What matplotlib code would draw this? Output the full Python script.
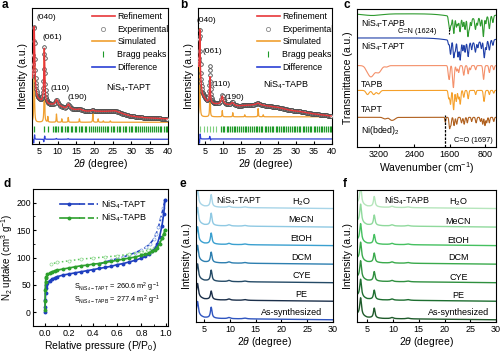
import numpy as np
import matplotlib.pyplot as plt
from matplotlib.lines import Line2D
from matplotlib.legend_handler import HandlerTuple

plt.rcParams['font.family'] = ['Liberation Sans', 'DejaVu Sans']
plt.rcParams['mathtext.fontset'] = 'custom'
plt.rcParams['mathtext.rm'] = 'Liberation Sans'
plt.rcParams['mathtext.it'] = 'Liberation Sans:italic'
plt.rcParams['font.size'] = 7
plt.rcParams['axes.linewidth'] = 0.8
plt.rcParams['xtick.direction'] = 'in'
plt.rcParams['ytick.direction'] = 'in'
plt.rcParams['xtick.major.size'] = 2.5
plt.rcParams['ytick.major.size'] = 2.5
plt.rcParams['xtick.minor.size'] = 1.5
plt.rcParams['ytick.minor.size'] = 1.5
plt.rcParams['xtick.labelsize'] = 6.5
plt.rcParams['ytick.labelsize'] = 6.5
plt.rcParams['xtick.major.pad'] = 2
plt.rcParams['ytick.major.pad'] = 2

# ---------------- data ----------------
# panel a (NiS4-TAPT Rietveld), intensities in axis fraction
a_bg_x = [3, 4.5, 5.5, 7.5, 10, 12, 15, 18, 20, 23, 25.5, 28, 30, 33, 36, 40]
a_bg_y = [0.45, 0.33, 0.31, 0.29, 0.285, 0.26, 0.25, 0.24, 0.24, 0.24, 0.245, 0.22, 0.205, 0.195, 0.19, 0.185]
a_exp_peaks = [(3.6, 0.47, 0.2), (6.35, 0.41, 0.18), (9.7, 0.04, 0.35), (12.9, 0.035, 0.4), (16.0, 0.01, 0.6), (19.5, 0.008, 0.5)]
a_ref_peaks = [(3.6, 0.46, 0.17), (6.35, 0.40, 0.15), (9.7, 0.04, 0.35), (12.9, 0.035, 0.4), (16.0, 0.01, 0.6), (19.5, 0.008, 0.5)]
a_sim_base = 0.16
a_sim_peaks = [(3.6, 0.69, 0.07), (6.35, 0.53, 0.07), (7.3, 0.04, 0.06), (9.65, 0.06, 0.07), (11.1, 0.025, 0.06),
               (12.85, 0.035, 0.07), (15.9, 0.025, 0.07), (19.55, 0.07, 0.07), (21.0, 0.025, 0.07), (22.4, 0.01, 0.07), (24.3, 0.01, 0.07)]
a_diff_base = 0.035
a_diff_peaks = [(3.45, -0.03, 0.08), (3.7, 0.035, 0.07), (6.2, -0.02, 0.07), (6.45, 0.025, 0.07), (9.6, 0.006, 0.1), (12.8, 0.005, 0.1)]
a_bragg = [3.6, 6.3, 7.3, 8.7, 9.2, 9.6, 10.1, 10.8, 11.2, 11.9, 12.4, 12.8, 13.5, 13.9, 14.6, 15.0, 15.8, 16.3, 16.7, 17.4,
           17.8, 18.5, 19.1, 19.5, 20.2, 20.6, 21.3, 21.8, 22.2, 22.9, 23.4, 23.8, 24.5, 25.0, 25.4, 26.1, 26.6, 27.0,
           27.7, 28.2, 28.6, 29.3, 29.8, 30.3, 30.9, 31.4, 31.8, 32.5, 33.0, 33.4, 34.1, 34.6, 35.1, 35.7, 36.2, 36.6,
           37.3, 37.8, 38.2, 38.9, 39.4, 39.8]

# panel b (NiS4-TAPB Rietveld)
b_bg_x = [3, 4.2, 5.5, 7.5, 10.5, 12, 14, 17, 19.5, 22, 25, 28, 31, 34, 37, 40]
b_bg_y = [0.55, 0.36, 0.31, 0.295, 0.29, 0.285, 0.28, 0.285, 0.29, 0.28, 0.27, 0.25, 0.24, 0.225, 0.215, 0.205]
b_exp_peaks = [(3.5, 0.37, 0.18), (6.3, 0.27, 0.17), (9.7, 0.07, 0.3), (12.5, 0.025, 0.4), (19.6, 0.01, 0.6)]
b_ref_peaks = [(3.5, 0.37, 0.13), (6.3, 0.19, 0.12), (9.7, 0.06, 0.3), (12.5, 0.02, 0.4), (19.6, 0.01, 0.6)]
b_sim_base = 0.2
b_sim_peaks = [(3.5, 0.65, 0.07), (6.3, 0.29, 0.07), (9.7, 0.045, 0.07), (12.6, 0.03, 0.07), (15.9, 0.015, 0.07),
               (19.6, 0.06, 0.07), (21.0, 0.015, 0.07)]
b_diff_base = 0.037
b_diff_peaks = [(3.4, -0.035, 0.07), (3.6, 0.04, 0.07), (6.25, 0.02, 0.08), (6.45, -0.01, 0.07)]
b_bragg_weak = [3.5, 4.6, 5.5, 6.3, 7.2, 8.1]
b_bragg = [9.4, 9.8, 10.3, 10.9, 11.3, 11.8, 12.4, 12.9, 13.3, 13.9, 14.4, 14.8, 15.4, 15.9, 16.3, 16.9, 17.4, 17.8,
           18.4, 18.9, 19.3, 19.9, 20.4, 20.8, 21.4, 21.9, 22.3, 22.9, 23.4, 23.8, 24.4, 24.9, 25.3, 25.9, 26.4, 26.8,
           27.4, 27.9, 28.3, 28.9, 29.4, 29.8, 30.4, 30.9, 31.3, 31.9, 32.4, 32.8, 33.4, 33.9, 34.3, 34.9, 35.4, 35.8,
           36.4, 36.9, 37.3, 37.9, 38.4, 38.8, 39.4, 39.8]

# panel c FTIR: baseline and bands [(wavenumber, depth, width)]
ir_names = ['NiS$_4$-TAPB', 'NiS$_4$-TAPT', 'TAPB', 'TAPT', 'Ni(bded)$_2$']
ir_colors = ['#2e9a2e', '#1f3fa8', '#f4906a', '#f5a02a', '#b0601e']
ir_base = [0.965, 0.79, 0.59, 0.41, 0.215]
ir_bands = [
    [(3350, 0.012, 200), (1150, 0.035, 380), (1624, 0.03, 12), (1595, 0.1, 16), (1560, 0.05, 12), (1505, 0.12, 16),
     (1445, 0.07, 14), (1410, 0.05, 12), (1365, 0.1, 16), (1300, 0.06, 14), (1250, 0.08, 14), (1185, 0.13, 16),
     (1150, 0.06, 12), (1110, 0.05, 12), (1015, 0.08, 16), (970, 0.05, 12), (900, 0.06, 14), (835, 0.14, 16),
     (780, 0.05, 12), (700, 0.09, 16), (620, 0.05, 14)],
    [(1150, 0.035, 380), (1624, 0.03, 12), (1580, 0.1, 16), (1505, 0.12, 16), (1470, 0.06, 12), (1410, 0.11, 16),
     (1360, 0.13, 16), (1300, 0.06, 12), (1250, 0.07, 14), (1180, 0.1, 16), (1100, 0.05, 12), (1015, 0.07, 16),
     (960, 0.04, 12), (880, 0.05, 12), (815, 0.12, 16), (770, 0.06, 12), (700, 0.07, 16), (620, 0.04, 14)],
    [(3440, 0.04, 60), (3360, 0.06, 60), (3210, 0.05, 60), (3030, 0.01, 40), (1620, 0.08, 16), (1600, 0.05, 12),
     (1515, 0.16, 18), (1440, 0.04, 14), (1395, 0.05, 14), (1280, 0.07, 16), (1180, 0.06, 14), (1130, 0.03, 14),
     (1010, 0.03, 14), (830, 0.1, 16), (700, 0.05, 14), (600, 0.03, 14)],
    [(3460, 0.03, 35), (3320, 0.03, 35), (3210, 0.025, 35), (1620, 0.06, 14), (1580, 0.1, 14), (1510, 0.14, 16),
     (1450, 0.08, 14), (1400, 0.06, 12), (1360, 0.1, 14), (1280, 0.05, 14), (1180, 0.06, 14), (1010, 0.03, 12),
     (820, 0.08, 16), (700, 0.03, 12), (600, 0.02, 12)],
    [(3060, 0.012, 40), (2920, 0.02, 40), (2850, 0.012, 35), (1697, 0.035, 10), (1600, 0.08, 14), (1570, 0.05, 12),
     (1500, 0.06, 14), (1440, 0.05, 14), (1330, 0.04, 14), (1270, 0.05, 14), (1200, 0.04, 12), (1100, 0.03, 12),
     (1000, 0.04, 14), (900, 0.03, 12), (850, 0.05, 12), (800, 0.06, 12), (760, 0.04, 12), (700, 0.04, 12),
     (600, 0.03, 12)],
]

# panel d N2 isotherms
tapt_ads_p = [0.0002, 0.001, 0.002, 0.004, 0.007, 0.01, 0.02, 0.04, 0.06, 0.08, 0.1, 0.15, 0.2, 0.25, 0.3, 0.35, 0.4,
              0.45, 0.5, 0.55, 0.6, 0.65, 0.7, 0.75, 0.8, 0.83, 0.86, 0.89, 0.91, 0.93, 0.95, 0.97, 0.985, 0.995]
tapt_ads_v = [0, 10, 22, 35, 44, 49, 54, 58, 61, 63, 65, 68, 70, 72, 74, 76, 78, 80, 82, 84, 87, 89, 92, 95, 99, 102,
              106, 111, 116, 124, 138, 158, 180, 205]
tapt_des_p = [0.995, 0.98, 0.96, 0.94, 0.92, 0.9, 0.87, 0.84, 0.8, 0.75, 0.7, 0.65, 0.6, 0.55, 0.5, 0.45]
tapt_des_v = [205, 190, 172, 155, 142, 133, 125, 119, 114, 109, 105, 101, 98, 95, 92, 88]
tapb_ads_p = tapt_ads_p
tapb_ads_v = [5, 20, 40, 55, 62, 65, 69, 72, 74, 76, 77, 79, 81, 83, 85, 86, 88, 89, 91, 93, 95, 97, 99, 101, 104,
              106, 108, 111, 114, 118, 125, 135, 143, 150]
tapb_des_p = [0.995, 0.97, 0.94, 0.9, 0.85, 0.8, 0.7, 0.6, 0.5, 0.4, 0.3, 0.2, 0.1, 0.05]
tapb_des_v = [150, 135, 124, 117, 113, 110, 106, 103, 101, 99, 97, 94, 91, 88]

# panels e/f stability PXRD (bottom to top)
solvents = ['As-synthesized', 'PE', 'CYE', 'DCM', 'EtOH', 'MeCN', 'H$_2$O']
e_colors = ['#2f55c0', '#1b2f4a', '#244a66', '#2d7fb0', '#3aa0d0', '#8fc9e3', '#a8d5e8']
f_colors = ['#1e5a2a', '#1d6e30', '#2f8f3f', '#3aaa4c', '#45c060', '#8fd99c', '#b6e6bc']
e_h1 = [0.75, 0.72, 0.78, 0.78, 0.78, 0.82, 0.82]
e_h2 = [0.58, 0.45, 0.58, 0.55, 0.58, 0.65, 0.65]
f_h1 = [0.95, 0.95, 0.95, 0.95, 0.95, 1.0, 1.0]
f_h2 = [0.53, 0.5, 0.5, 0.5, 0.5, 0.55, 0.55]
st_bg_x = [3.0, 5, 8, 12, 20, 30]
st_bg_y = [0.3, 0.12, 0.07, 0.05, 0.03, 0.0]


def lor(x, peaks):
    y = np.zeros_like(x)
    for c, h, w in peaks:
        y += h / (1 + ((x - c) / w) ** 2)
    return y


def gau(x, bands):
    y = np.zeros_like(x)
    for c, d, w in bands:
        y += d * np.exp(-0.5 * ((x - c) / w) ** 2)
    return y


fig = plt.figure(figsize=(5.0, 3.53), dpi=100)
W, H = 500.0, 353.0


def add_ax(x0, y0, x1, y1):
    return fig.add_axes([x0 / W, 1 - y1 / H, (x1 - x0) / W, (y1 - y0) / H])


tt = r'$\mathit{2}\theta$ (degree)'


def rietveld(ax, bg_x, bg_y, exp_p, ref_p, sim_b, sim_p, diff_b, diff_p, bragg, bragg_weak, labels, name, lpos, npos):
    x = np.arange(3, 40.001, 0.01)
    bg = np.interp(x, bg_x, bg_y)
    xe = np.concatenate([np.arange(3.0, 8.0, 0.08), np.arange(8.0, 40.01, 0.18)])
    ye = np.interp(xe, bg_x, bg_y) + lor(xe, exp_p)
    ax.plot(x, sim_b + lor(x, sim_p), color='#f0a030', lw=0.9, zorder=2)
    ax.plot(xe, ye, 'o', mfc='white', mec='#444444', ms=2.6, mew=0.6, zorder=3)
    ax.plot(x, bg + lor(x, ref_p), color='#e8373a', lw=1.0, zorder=4)
    ax.plot(x, diff_b + lor(x, diff_p), color='#2a3fd4', lw=0.9, zorder=2)
    if bragg_weak:
        ax.plot(bragg_weak, [0.11] * len(bragg_weak), '|', color='#7fcf7f', ms=4.5, mew=0.8)
    ax.plot(bragg, [0.11] * len(bragg), '|', color='#1e9a28', ms=4.5, mew=0.9)
    ax.set_xlim(3, 40)
    ax.set_ylim(0, 1)
    ax.set_yticks([])
    ax.set_xticks([5, 10, 15, 20, 25, 30, 35, 40])
    ax.set_xlabel(tt, fontsize=7.5, labelpad=1)
    ax.set_ylabel('Intensity (a.u.)', fontsize=7.5, labelpad=3)
    for (t, px, py) in labels:
        ax.text(px, py, t, fontsize=6, ha='center', va='center', transform=ax.transAxes)
    ax.text(npos[0], npos[1], name, fontsize=6.5, ha='center', va='center', transform=ax.transAxes)
    hs = [Line2D([], [], color='#e8373a', lw=1.2),
          Line2D([], [], ls='none', marker='o', mfc='white', mec='#888888', ms=3, mew=0.6),
          Line2D([], [], color='#f0a030', lw=1.2),
          Line2D([], [], ls='none', marker='|', color='#1e9a28', ms=4, mew=0.8),
          Line2D([], [], color='#2a3fd4', lw=1.2)]
    ax.legend(hs, ['Refinement', 'Experimental', 'Simulated', 'Bragg peaks', 'Difference'], loc='upper left',
              bbox_to_anchor=lpos, frameon=False, fontsize=6.3, handlelength=2.6, handletextpad=0.3,
              labelspacing=0.42, borderaxespad=0, borderpad=0)


# ---- a ----
ax = add_ax(32, 8, 168, 144)
rietveld(ax, a_bg_x, a_bg_y, a_exp_peaks, a_ref_peaks, a_sim_base, a_sim_peaks, a_diff_base, a_diff_peaks,
         a_bragg, None,
         [('(040)', 0.105, 0.93), ('(061)', 0.15, 0.78), ('(110)', 0.21, 0.41), ('(190)', 0.33, 0.345)],
         'NiS$_4$-TAPT', (0.44, 0.97), (0.715, 0.41))

# ---- b ----
ax = add_ax(198, 8, 332, 144)
rietveld(ax, b_bg_x, b_bg_y, b_exp_peaks, b_ref_peaks, b_sim_base, b_sim_peaks, b_diff_base, b_diff_peaks,
         b_bragg, b_bragg_weak,
         [('(040)', 0.06, 0.905), ('(061)', 0.105, 0.68), ('(110)', 0.17, 0.435), ('(190)', 0.27, 0.345)],
         'NiS$_4$-TAPB', (0.44, 0.97), (0.66, 0.435))

# ---- c ----
ax = add_ax(357, 9, 496, 147)
wn = np.arange(550, 3700.1, 2.0)
for i in range(5):
    ax.plot(wn, ir_base[i] - gau(wn, ir_bands[i]), color=ir_colors[i], lw=0.8)
ax.set_xlim(3700, 550)
ax.set_ylim(0, 1)
ax.set_yticks([])
ax.set_xticks([3200, 2400, 1600, 800])
ax.set_xlabel('Wavenumber (cm$^{-1}$)', fontsize=7.5, labelpad=1)
ax.set_ylabel('Transmittance (a.u.)', fontsize=7.5, labelpad=3)
ax.vlines(1697, 0.0, 0.23, colors='k', linestyles=(0, (2, 1)), lw=0.9)
ax.vlines(1624, 0.82, 0.86, colors='k', linestyles=(0, (1.5, 1)), lw=0.8)
for t, yy in zip(ir_names, [0.895, 0.73, 0.45, 0.27, 0.12]):
    ax.text(0.03, yy, t, fontsize=6.3, ha='left', va='center', transform=ax.transAxes)
ax.text(0.57, 0.835, 'C=N (1624)', fontsize=5.3, ha='right', va='center', transform=ax.transAxes)
ax.text(0.98, 0.05, 'C=O (1697)', fontsize=5.3, ha='right', va='center', transform=ax.transAxes)

# ---- d ----
ax = add_ax(33, 189, 168, 326)
ax.plot(tapt_ads_p, tapt_ads_v, '-o', color='#1f3fbf', ms=1.8, lw=1.2, zorder=4)
ax.plot(tapt_des_p, tapt_des_v, '--o', color='#1f3fbf', mfc='white', mec='#7f9fe0', ms=2.2, mew=0.5, lw=1.1, zorder=3)
ax.plot(tapb_ads_p, tapb_ads_v, '-o', color='#2da02d', ms=1.8, lw=1.2, zorder=4)
ax.plot(tapb_des_p, tapb_des_v, ':o', color='#5ec85e', mfc='white', mec='#8fd98f', ms=2.2, mew=0.5, lw=1.1, zorder=3)
ax.set_xlim(-0.1, 1.02)
ax.set_ylim(-25, 225)
ax.set_xticks([0.0, 0.2, 0.4, 0.6, 0.8, 1.0])
ax.set_xticks(np.arange(-0.1, 1.02, 0.1), minor=True)
ax.set_yticks([0, 50, 100, 150, 200])
ax.set_yticks([-25, 25, 75, 125, 175, 225], minor=True)
ax.tick_params(axis='y', labelsize=6.2, pad=1.5)
ax.set_xlabel('Relative pressure (P/P$_0$)', fontsize=7.5, labelpad=1)
ax.set_ylabel('N$_2$ uptake (cm$^3$ g$^{-1}$)', fontsize=7)
ax.yaxis.set_label_coords(-0.135, 0.5)
h1 = (Line2D([], [], color='#1f3fbf', lw=1.2, marker='o', ms=1.8), Line2D([], [], color='#1f3fbf', lw=1.2, ls='--'))
h2 = (Line2D([], [], color='#2da02d', lw=1.2, marker='o', ms=1.8), Line2D([], [], color='#2da02d', lw=1.2, ls='--'))
ax.legend([h1, h2], ['NiS$_4$-TAPT', 'NiS$_4$-TAPB'], handler_map={tuple: HandlerTuple(ndivide=None, pad=0)},
          loc='upper left', bbox_to_anchor=(0.2, 0.93), frameon=False, fontsize=6.5, handlelength=4.2,
          handletextpad=0.3, labelspacing=0.1, borderaxespad=0, borderpad=0)
ax.text(0.3, 0.28, r'S$_{\rm NiS_4-TAPT}$ = 260.6 m$^2$ g$^{-1}$', fontsize=5.3, transform=ax.transAxes, va='center')
ax.text(0.3, 0.185, r'S$_{\rm NiS_4-TAPB}$ = 277.4 m$^2$ g$^{-1}$', fontsize=5.3, transform=ax.transAxes, va='center')


def stability(ax, colors, h1s, h2s, name, name_x, lab_x, lab_y, xmin):
    x = np.arange(xmin, 30.001, 0.02)
    bg = np.interp(x, st_bg_x, st_bg_y)
    for i in range(7):
        pk = [(3.7, h1s[i], 0.2), (6.35, h2s[i], 0.18), (9.8, 0.06, 0.3), (12.9, 0.04, 0.4)]
        ax.plot(x, i + bg + lor(x, pk), color=colors[i], lw=1.0)
        ax.text(lab_x[i], lab_y[i], solvents[i], fontsize=6.5, ha='center', va='center', transform=ax.transAxes)
    ax.set_xlim(xmin, 30)
    ax.set_ylim(-0.12, 7.0)
    ax.set_yticks([])
    ax.set_xticks([5, 10, 15, 20, 25, 30])
    ax.set_xlabel(tt, fontsize=7.5, labelpad=1)
    ax.set_ylabel('Intensity (a.u.)', fontsize=7.5, labelpad=3)
    ax.text(name_x, 0.915, name, fontsize=6.5, ha='center', va='center', transform=ax.transAxes)


ax = add_ax(196, 190, 333, 322)
stability(ax, e_colors, e_h1, e_h2, 'NiS$_4$-TAPT', 0.315,
          [0.7, 0.77, 0.77, 0.77, 0.77, 0.77, 0.77],
          [0.07, 0.21, 0.35, 0.49, 0.635, 0.775, 0.91], 3.4)
ax = add_ax(357, 190, 496, 322)
stability(ax, f_colors, f_h1, f_h2, 'NiS$_4$-TAPB', 0.36,
          [0.73, 0.73, 0.73, 0.73, 0.73, 0.73, 0.73],
          [0.075, 0.197, 0.34, 0.485, 0.62, 0.765, 0.91], 3.0)

for t, px, py in [('a', 2, 5), ('b', 180, 5), ('c', 343, 5), ('d', 3, 184), ('e', 180, 184), ('f', 343, 184)]:
    fig.text(px / W, 1 - py / H, t, fontsize=8.5, fontweight='bold', ha='left', va='center')

fig.savefig('out.png', dpi=100)
